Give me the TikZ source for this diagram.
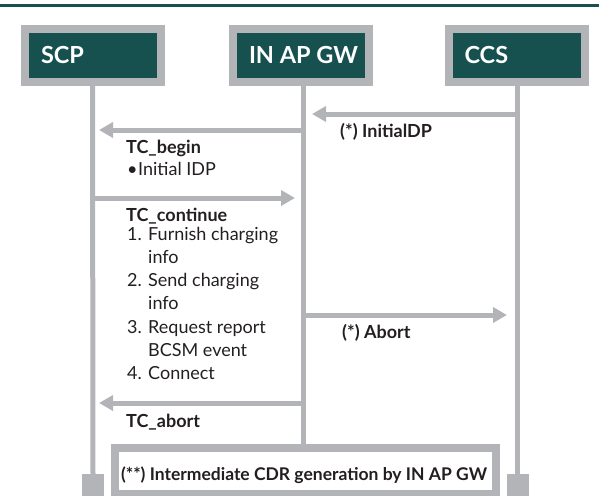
\documentclass[tikz,border=0pt]{standalone}
\usepackage{fontspec}
\setmainfont{Lato}
\usetikzlibrary{arrows.meta}
\definecolor{hdrteal}{HTML}{16504F}
\definecolor{linegray}{HTML}{B3B4B7}
\definecolor{txt}{HTML}{231F20}
\newcommand\bdyfont{\fontsize{18}{23.3}\selectfont}
\newcommand\cdrfont{\fontsize{17.5}{23.3}\selectfont}
\begin{document}
\begin{tikzpicture}[x=1pt,y=-1pt,
  hdr/.style={draw=linegray, line width=8pt, fill=hdrteal, minimum width=136pt,
    minimum height=53pt, inner xsep=16pt, inner ysep=0pt, outer sep=0pt,
    text=white, font=\fontsize{23.5}{28}\selectfont\bfseries},
  life/.style={draw=linegray, line width=5pt},
  msg/.style={draw=linegray, line width=5pt, -{Triangle[length=14pt,width=15pt]}},
  lbl/.style={anchor=base west, inner sep=0pt, text=txt, font=\bdyfont\bfseries},
  body/.style={anchor=base west, inner sep=0pt, text=txt, font=\bdyfont},
  endsq/.style={fill=linegray, minimum size=22pt, inner sep=0pt, outer sep=0pt, anchor=north},
  cdr/.style={draw=linegray, line width=8pt, fill=white, minimum width=381pt,
    minimum height=46pt, inner sep=0pt, outer sep=0pt}]
\useasboundingbox (0,0) rectangle (599,495);
% top rule
\coordinate (ruleL) at (0,5.3);
\coordinate (ruleR) at (599,5.3);
\draw[hdrteal, line width=3pt] (ruleL) -- (ruleR);

% lifeline coordinates
\coordinate (scpTop) at (92.5,84);
\coordinate (gwTop) at (303,84);
\coordinate (ccsTop) at (517.5,84);
\coordinate (gwEnd) at (303,446);

% end squares and CDR box
\node[endsq] (scpEnd) at (93,474) {};
\node[endsq] (ccsEnd) at (517.5,474) {};
\draw[life] (scpTop) -- (scpEnd.north);
\draw[life] (ccsTop) -- (ccsEnd.north);
\draw[life] (gwTop) -- (gwEnd);
\node[cdr] (cdrbox) at (305.5,471) {};
\node[anchor=base, inner sep=0pt, text=txt, font=\cdrfont\bfseries] (cdrtxt) at (304,480)
  {(**) Intermediate CDR generation by IN AP GW};

% headers
\node[hdr] (scp) at (93,55.5) {\makebox[104pt][l]{SCP}};
\node[hdr] (gw) at (301,55.5) {\makebox[104pt][l]{IN AP GW}};
\node[hdr] (ccs) at (516.5,55.5) {\makebox[104pt][l]{CCS}};

% messages
\coordinate (a1s) at (517.5,114); \coordinate (a1e) at (312,114);
\coordinate (a2s) at (303,130);   \coordinate (a2e) at (99,130);
\coordinate (a3s) at (92.5,198);  \coordinate (a3e) at (295,198);
\coordinate (a4s) at (303,315);   \coordinate (a4e) at (507,315);
\coordinate (a5s) at (303,403);   \coordinate (a5e) at (99,403);
\draw[msg] (a1s) -- (a1e);
\draw[msg] (a2s) -- (a2e);
\draw[msg] (a3s) -- (a3e);
\draw[msg] (a4s) -- (a4e);
\draw[msg] (a5s) -- (a5e);

% labels
\node[lbl] (initdp) at (340,137) {(*) InitialDP};
\node[lbl] (tcbegin) at (126,153) {TC\_begin};
\node[body] (idp) at (127,175) {\makebox[11pt][l]{•}Initial IDP};
\node[lbl] (tccont) at (126,221) {TC\_continue};
\node[body] (steps) at (127,240) {\begin{tabular}[t]{@{}l@{}l@{}}
  \makebox[21pt][l]{1.} & Furnish charging\\
   & info\\
  \makebox[21pt][l]{2.} & Send charging\\
   & info\\
  \makebox[21pt][l]{3.} & Request report\\
   & BCSM event\\
  \makebox[21pt][l]{4.} & Connect
\end{tabular}};
\node[lbl] (abort) at (342,338) {(*) Abort};
\node[lbl] (tcabort) at (126,427) {TC\_abort};
\end{tikzpicture}
\end{document}
